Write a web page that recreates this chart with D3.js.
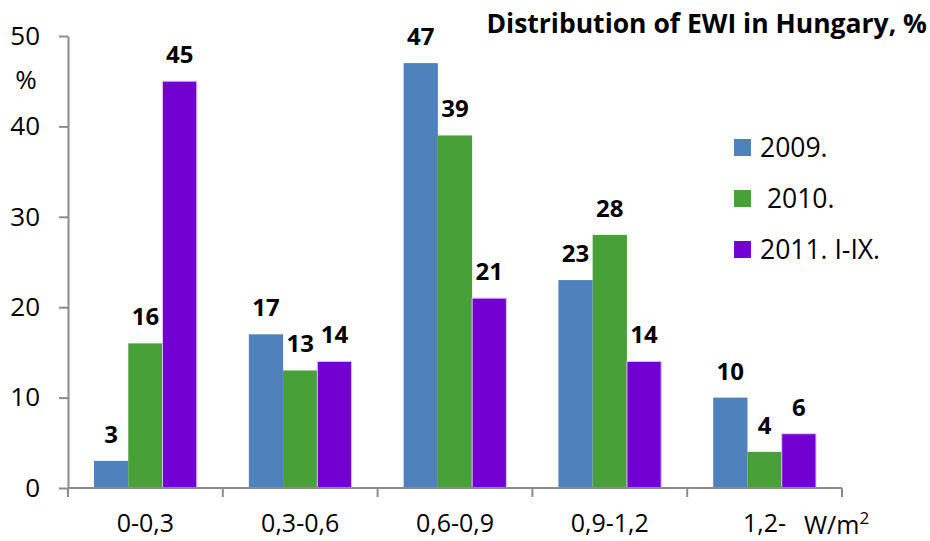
<!DOCTYPE html>
<html>
<head>
<meta charset="utf-8">
<script src="https://cdn.jsdelivr.net/npm/d3@7"></script>
<style>
  html, body { margin: 0; padding: 0; background: #fff; }
  svg { display: block; font-family: "Open Sans", sans-serif; }
</style>
</head>
<body>
<svg id="chart" width="930" height="541"></svg>
<script>
// EWI distribution by power density band
const categories = ["0-0,3", "0,3-0,6", "0,6-0,9", "0,9-1,2", "1,2-"];
const seriesNames = ["2009.", " 2010.", "2011. I-IX."];
const values2009 = [3, 17, 47, 23, 10];
const values2010 = [16, 13, 39, 28, 4];
const values2011 = [45, 14, 21, 14, 6];
const yTicks = [0, 10, 20, 30, 40, 50];
const colors = ["#4f81bd", "#47a038", "#7300d3"];

const series = [values2009, values2010, values2011];

const svg = d3.select("#chart");
const margin = { left: 68, right: 88, top: 36, bottom: 53 };
const W = 930, H = 541;

const x = d3.scaleBand()
  .domain(categories)
  .range([margin.left, W - margin.right])
  .paddingInner(0)
  .paddingOuter(0);

const inner = d3.scaleBand()
  .domain(d3.range(series.length))
  .range([0, x.bandwidth()])
  .paddingOuter(0.76)
  .paddingInner(0);

const y = d3.scaleLinear().domain([0, 50]).range([H - margin.bottom, margin.top]);

// bars
const groups = svg.append("g").selectAll("g")
  .data(categories)
  .join("g")
  .attr("transform", d => `translate(${x(d)},0)`);

groups.selectAll("rect")
  .data((c, i) => series.map((s, k) => ({ k, v: s[i] })))
  .join("rect")
  .attr("x", d => inner(d.k))
  .attr("y", d => y(d.v))
  .attr("width", inner.bandwidth())
  .attr("height", d => y(0) - y(d.v))
  .attr("fill", d => colors[d.k])
  .attr("stroke", d => d.k === 2 ? "#d9c2f0" : "none")
  .attr("stroke-width", 1);

// value labels
groups.selectAll("text.val")
  .data((c, i) => series.map((s, k) => ({ k, v: s[i] })))
  .join("text")
  .attr("class", "val")
  .attr("x", d => inner(d.k) + inner.bandwidth() / 2)
  .attr("y", d => y(d.v) - 18)
  .attr("text-anchor", "middle")
  .attr("font-size", 24)
  .attr("font-weight", "bold")
  .attr("fill", "#000")
  .text(d => d.v);

// y axis
const yAxis = svg.append("g")
  .attr("transform", `translate(${margin.left},0)`)
  .call(d3.axisLeft(y).tickValues(yTicks).tickSize(9).tickPadding(19).tickSizeOuter(0));
yAxis.select(".domain").attr("stroke", "#8c8c8c").attr("stroke-width", 2);
yAxis.selectAll(".tick line").attr("stroke", "#8c8c8c").attr("stroke-width", 2);
yAxis.selectAll(".tick text").attr("font-size", 26).attr("fill", "#000")
  .attr("font-family", "'Open Sans', sans-serif");

// x axis with ticks at category boundaries
const xAxisG = svg.append("g").attr("transform", `translate(0,${y(0)})`);
xAxisG.append("line")
  .attr("x1", margin.left).attr("x2", W - margin.right)
  .attr("stroke", "#8c8c8c").attr("stroke-width", 2);
const bounds = categories.map(c => x(c)).concat([x(categories[categories.length - 1]) + x.bandwidth()]);
xAxisG.selectAll("line.tk")
  .data(bounds)
  .join("line")
  .attr("class", "tk")
  .attr("x1", d => d).attr("x2", d => d)
  .attr("y1", 0).attr("y2", 9)
  .attr("stroke", "#8c8c8c").attr("stroke-width", 2);
xAxisG.selectAll("text.cat")
  .data(categories)
  .join("text")
  .attr("class", "cat")
  .attr("x", d => x(d) + x.bandwidth() / 2)
  .attr("y", 44)
  .attr("text-anchor", "middle")
  .attr("font-size", 25)
  .attr("fill", "#000")
  .text(d => d);

// unit labels
const unit = svg.append("text")
  .attr("x", 804).attr("y", 534)
  .attr("font-size", 25).attr("fill", "#000");
unit.append("tspan").text("W/m");
unit.append("tspan").attr("dy", -10).attr("font-size", 17).text("2");

svg.append("text")
  .attr("x", 26).attr("y", 89)
  .attr("text-anchor", "middle")
  .attr("font-size", 26).attr("fill", "#000")
  .text("%");

// title
svg.append("text")
  .attr("x", 927).attr("y", 33)
  .attr("text-anchor", "end")
  .attr("font-size", 26.5)
  .attr("font-weight", "bold")
  .attr("fill", "#000")
  .text("Distribution of EWI in Hungary, %");

// legend
const legend = svg.append("g").selectAll("g")
  .data(seriesNames)
  .join("g")
  .attr("transform", (d, i) => `translate(734,${139 + i * 51})`);
legend.append("rect")
  .attr("width", 17).attr("height", 17)
  .attr("fill", (d, i) => colors[i]);
legend.append("text")
  .attr("x", 26).attr("y", 18)
  .attr("font-size", 26.5)
  .attr("fill", "#000")
  .attr("xml:space", "preserve")
  .style("white-space", "pre")
  .text(d => d);
</script>
</body>
</html>
